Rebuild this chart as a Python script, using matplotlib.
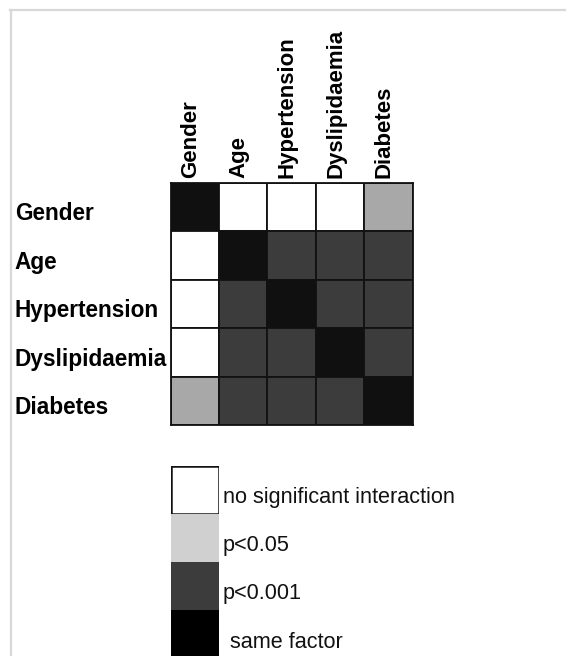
import matplotlib
matplotlib.use("Agg")
import matplotlib.pyplot as plt
from matplotlib.patches import Rectangle
from matplotlib.lines import Line2D

# ---- data ----
factors = ["Gender", "Age", "Hypertension", "Dyslipidaemia", "Diabetes"]
# 0 = no significant interaction, 1 = p<0.05, 2 = p<0.001, 3 = same factor
interaction = [
    [3, 0, 0, 0, 1],
    [0, 3, 2, 2, 2],
    [0, 2, 3, 2, 2],
    [0, 2, 2, 3, 2],
    [1, 2, 2, 2, 3],
]
grid_colors = {0: "#ffffff", 1: "#a8a8a8", 2: "#3c3c3c", 3: "#101010"}
legend_labels = ["no significant interaction", "p<0.05", "p<0.001", "same factor"]
legend_colors = ["#ffffff", "#d0d0d0", "#3c3c3c", "#000000"]

W, H = 566, 656
fig = plt.figure(figsize=(W / 100, H / 100), dpi=100)
fig.patch.set_facecolor("white")

def fx(px):
    return px / W

def fy(py):
    return 1 - py / H

# light gray frame (top and left)
fig.add_artist(Line2D([fx(10), 1.0], [fy(10), fy(10)], color="#d8d8d8", lw=1.6))
fig.add_artist(Line2D([fx(11), fx(11)], [fy(10), 0.0], color="#d8d8d8", lw=1.6))

# ---- matrix ----
gx0, gx1, gy0, gy1 = 170.5, 412.5, 183, 425
ax = fig.add_axes([fx(gx0), fy(gy1), (gx1 - gx0) / W, (gy1 - gy0) / H])
n = len(factors)
for r in range(n):
    for c in range(n):
        ax.add_patch(Rectangle((c, r), 1, 1, facecolor=grid_colors[interaction[r][c]],
                               edgecolor="#111111", lw=1.3))
ax.set_xlim(0, n)
ax.set_ylim(n, 0)
ax.set_xticks([])
ax.set_yticks([])
for s in ax.spines.values():
    s.set_linewidth(1.3)
    s.set_color("#111111")

row_font = dict(family=["Liberation Sans", "DejaVu Sans"], weight="bold", size=16.3)
col_font = dict(family=["Liberation Sans", "DejaVu Sans"], weight="bold", size=16.0)
for i, name in enumerate(factors):
    ax.text(-3.22, i + 0.64, name, ha="left", va="center", **row_font, clip_on=False)
    ax.text(i + 0.41, -0.11, name, ha="center", va="bottom", rotation=90, **col_font,
            clip_on=False)

# ---- legend ----
lx0, lx1, ly0 = 171, 219, 466
box = 48
lax = fig.add_axes([fx(lx0), 0, (lx1 - lx0) / W, (H - ly0) / H])
lax.set_xlim(0, lx1 - lx0)
lax.set_ylim(H - ly0, 0)
lax.axis("off")
for k, (lab, col) in enumerate(zip(legend_labels, legend_colors)):
    lax.add_patch(Rectangle((0, k * box), lx1 - lx0, box, facecolor=col,
                            edgecolor="#111111" if k == 0 else "none",
                            lw=1.8 if k == 0 else 0))
    xoff = 52 if k < 3 else 59
    lax.text(xoff, k * box + 32, lab, ha="left", va="center",
             family=["Liberation Sans", "DejaVu Sans"], size=15.6, color="#111111",
             clip_on=False)

fig.savefig("out.png", dpi=100)
